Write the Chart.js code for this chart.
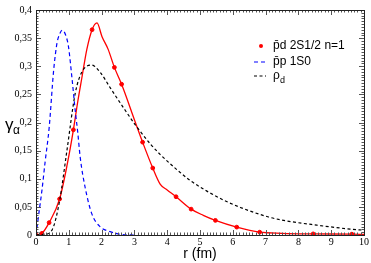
<!DOCTYPE html>
<html lang="en">
<head>
  <meta charset="UTF-8" />
  <title>gamma alpha vs r</title>
  <script src="https://cdn.jsdelivr.net/npm/chart.js"></script>
  <style>
    body {
      margin: 0;
      background: #fff;
    }
    #wrap {
      width: 371px;
      height: 263px;
      position: relative;
    }
  </style>
</head>
<body>
  <div id="wrap">
    <canvas id="chart"></canvas>
  </div>

  <script>
    // p̄d 2S1/2 n=1 : smooth curve + computed points (markers)
    const pdCurveR = [0, 0.18, 0.4, 0.72, 0.95, 1.14, 1.27, 1.4, 1.55, 1.71, 1.86, 2.01, 2.2, 2.39, 2.61, 3.03, 3.25, 3.56, 3.79, 4.0, 4.27, 4.73, 5.1, 5.47, 6.12, 6.82, 7.5, 8.45, 9.63, 10];
    const pdCurveY = [0, 0.003, 0.022, 0.064, 0.125, 0.187, 0.236, 0.28, 0.33, 0.365, 0.377, 0.353, 0.33, 0.298, 0.268, 0.2, 0.165, 0.119, 0.09, 0.08, 0.068, 0.046, 0.035, 0.026, 0.014, 0.005, 0.003, 0.002, 0.0015, 0.001];
    const pdPointR = [0, 0.18, 0.4, 0.72, 1.14, 1.71, 2.39, 2.61, 3.25, 3.56, 4.27, 4.73, 5.47, 6.12, 6.82, 8.45, 9.63];
    const pdPointY = [0, 0.003, 0.022, 0.064, 0.187, 0.365, 0.298, 0.268, 0.165, 0.119, 0.068, 0.046, 0.026, 0.014, 0.005, 0.002, 0.0015];

    // p̄p 1S0
    const ppR = [0, 0.1, 0.18, 0.28, 0.4, 0.54, 0.64, 0.72, 0.8, 0.9, 0.99, 1.1, 1.2, 1.27, 1.35, 1.5, 1.7, 1.95, 2.26, 2.6, 3.0];
    const ppY = [0, 0.044, 0.079, 0.131, 0.19, 0.294, 0.341, 0.357, 0.364, 0.356, 0.335, 0.277, 0.219, 0.184, 0.137, 0.084, 0.038, 0.015, 0.006, 0.001, 0];

    // rho_d
    const rhoR = [0, 0.25, 0.49, 0.72, 0.94, 1.2, 1.4, 1.7, 1.96, 2.26, 2.67, 3.05, 3.5, 3.79, 4.2, 4.7, 5.21, 5.72, 6.23, 7.09, 7.55, 8.56, 9.58, 10];
    const rhoY = [0, 0.001, 0.009, 0.061, 0.149, 0.253, 0.29, 0.302, 0.289, 0.262, 0.226, 0.194, 0.161, 0.143, 0.121, 0.097, 0.078, 0.062, 0.049, 0.032, 0.026, 0.0175, 0.0105, 0.0085];

    const xTicks = [0, 1, 2, 3, 4, 5, 6, 7, 8, 9, 10];
    const yTicks = [0, 0.05, 0.1, 0.15, 0.2, 0.25, 0.3, 0.35, 0.4];

    const toXY = (xs, ys) => xs.map((x, i) => ({ x, y: ys[i] }));
    const comma = v => String(Math.round(v * 100) / 100).replace('.', ',');

    // frame, inward ticks, custom legend and y title
    const decor = {
      id: 'decor',
      afterDraw(chart) {
        const { ctx, chartArea: a, scales } = chart;
        const xs = scales.x, ys = scales.y;
        ctx.save();
        ctx.strokeStyle = '#555';
        ctx.lineWidth = 1;
        ctx.beginPath();
        for (let i = 0; i <= 100; i++) {
          const px = Math.round(xs.getPixelForValue(i / 10)) + 0.5;
          const len = i % 10 === 0 ? 5 : 2.5;
          ctx.moveTo(px, a.bottom); ctx.lineTo(px, a.bottom - len);
          ctx.moveTo(px, a.top); ctx.lineTo(px, a.top + len);
        }
        for (let i = 0; i <= 80; i++) {
          const py = Math.round(ys.getPixelForValue(i * 0.005)) + 0.5;
          const len = i % 10 === 0 ? 5 : 2.5;
          ctx.moveTo(a.left, py); ctx.lineTo(a.left + len, py);
          ctx.moveTo(a.right, py); ctx.lineTo(a.right - len, py);
        }
        ctx.stroke();
        ctx.strokeStyle = '#222';
        ctx.strokeRect(Math.round(a.left) + 0.5, Math.round(a.top) + 0.5,
          Math.round(a.right - a.left), Math.round(a.bottom - a.top));

        // y title
        ctx.fillStyle = '#000';
        ctx.textBaseline = 'alphabetic';
        ctx.textAlign = 'left';
        ctx.font = '17px "Liberation Sans", Arial, sans-serif';
        ctx.fillText('γ', 5, 130);
        ctx.font = '12px "Liberation Sans", Arial, sans-serif';
        ctx.fillText('α', 13, 134);

        // legend
        const lx = 254, tx = 273;
        ctx.font = '12px "Liberation Sans", Arial, sans-serif';
        ctx.textBaseline = 'middle';
        ctx.fillStyle = '#ff0000';
        ctx.beginPath();
        ctx.arc(261, 46, 2, 0, Math.PI * 2);
        ctx.fill();
        ctx.fillStyle = '#000';
        ctx.fillText('p\u0304d 2S1/2 n=1', tx, 46);

        ctx.lineWidth = 1.2;
        ctx.strokeStyle = '#0000ff';
        ctx.setLineDash([4, 3]);
        ctx.beginPath(); ctx.moveTo(lx, 62); ctx.lineTo(lx + 12, 62); ctx.stroke();
        ctx.fillText('p\u0304p 1S0', tx, 62);

        ctx.strokeStyle = '#000';
        ctx.setLineDash([3, 2.5]);
        ctx.beginPath(); ctx.moveTo(lx, 76); ctx.lineTo(lx + 12, 76); ctx.stroke();
        ctx.setLineDash([]);
        ctx.fillText('ρ', tx, 76);
        ctx.font = '9px "Liberation Sans", Arial, sans-serif';
        ctx.fillText('d', tx + 7, 81);
        ctx.restore();
      }
    };

    new Chart(document.getElementById('chart'), {
      type: 'scatter',
      data: {
        datasets: [
          {
            label: 'p̄p 1S0',
            data: toXY(ppR, ppY),
            showLine: true,
            borderColor: '#0000ff',
            borderWidth: 1.2,
            borderDash: [4, 3],
            pointRadius: 0,
            cubicInterpolationMode: 'monotone'
          },
          {
            label: 'ρd',
            data: toXY(rhoR, rhoY),
            showLine: true,
            borderColor: '#000',
            borderWidth: 1.2,
            borderDash: [3, 2.5],
            pointRadius: 0,
            cubicInterpolationMode: 'monotone'
          },
          {
            label: 'p̄d curve',
            data: toXY(pdCurveR, pdCurveY),
            showLine: true,
            borderColor: '#ff0000',
            borderWidth: 1.3,
            pointRadius: 0,
            cubicInterpolationMode: 'monotone'
          },
          {
            label: 'p̄d 2S1/2 n=1',
            data: toXY(pdPointR, pdPointY),
            showLine: false,
            backgroundColor: '#ff0000',
            borderColor: '#ff0000',
            pointRadius: 1.9,
            pointStyle: 'circle'
          }
        ]
      },
      options: {
        responsive: true,
        maintainAspectRatio: false,
        animation: false,
        events: [],
        layout: { padding: { top: 6, right: 7, left: 0, bottom: 0 } },
        plugins: {
          legend: { display: false },
          tooltip: { enabled: false }
        },
        scales: {
          x: {
            type: 'linear',
            min: 0,
            max: 10,
            afterFit(s) { s.height = 28; },
            afterBuildTicks(s) { s.ticks = xTicks.map(v => ({ value: v })); },
            grid: { display: false, drawTicks: false },
            border: { display: false },
            ticks: {
              padding: 1,
              maxRotation: 0,
              color: '#000',
              font: { family: '"Liberation Serif", serif', size: 10 },
              callback: v => String(v)
            },
            title: {
              display: true,
              text: 'r (fm)',
              color: '#000',
              padding: { top: 0, bottom: 0 },
              font: { family: '"Liberation Sans", Arial, sans-serif', size: 14 }
            }
          },
          y: {
            type: 'linear',
            min: 0,
            max: 0.4,
            afterFit(s) { s.width = 36; },
            afterBuildTicks(s) { s.ticks = yTicks.map(v => ({ value: v })); },
            grid: { display: false, drawTicks: false },
            border: { display: false },
            ticks: {
              padding: 4,
              color: '#000',
              font: { family: '"Liberation Serif", serif', size: 10 },
              callback: v => comma(v)
            }
          }
        }
      },
      plugins: [decor]
    });
  </script>
</body>
</html>
